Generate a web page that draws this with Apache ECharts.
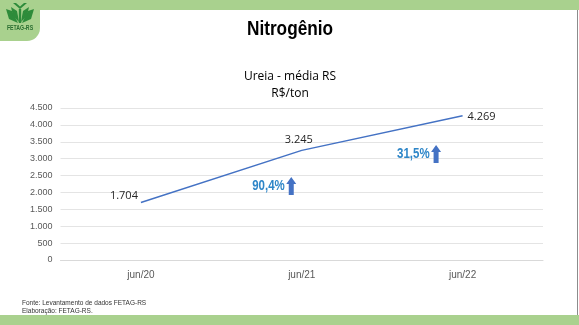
<!DOCTYPE html>
<html><head><meta charset="utf-8">
<script src="https://cdn.jsdelivr.net/npm/echarts@6/dist/echarts.min.js"></script>
<style>html,body{margin:0;padding:0;background:#fff;}#c{width:579px;height:325px;}</style>
</head><body><div id="c"></div>
<script>
const categories = ['jun/20', 'jun/21', 'jun/22'];
const values = [1704, 3245, 4269];
const yTicks = [0, 500, 1000, 1500, 2000, 2500, 3000, 3500, 4000, 4500];
const changeLabels = ['90,4%', '31,5%'];

const fmt = v => v.toLocaleString('de-DE');
const chart = echarts.init(document.getElementById('c'), null, {renderer: 'canvas'});
const green = '#a9d18e';
const option = {
  backgroundColor: '#fff',
  animation: false,
  grid: {left: 60.5, right: 36, top: 108, bottom: 65, containLabel: false},
  xAxis: {
    type: 'category', data: categories, boundaryGap: true,
    axisLine: {show: true, lineStyle: {color: '#d9d9d9'}},
    axisTick: {show: false},
    axisLabel: {color: '#595959', fontSize: 10, fontFamily: 'Liberation Sans', margin: 10}
  },
  yAxis: {
    type: 'value', min: yTicks[0], max: yTicks[yTicks.length - 1], interval: 500,
    axisLine: {show: false}, axisTick: {show: false},
    splitLine: {lineStyle: {color: '#e4e4e4', width: 1}},
    axisLabel: {color: '#595959', fontSize: 9, fontFamily: 'Liberation Sans', margin: 8, formatter: v => fmt(v)}
  },
  series: [{
    type: 'line', data: values, symbol: 'none',
    lineStyle: {color: '#4472c4', width: 1.5},
    label: {show: false}
  }]
};
chart.setOption(option);

const px = values.map((v, i) => chart.convertToPixel({seriesIndex: 0}, [i, v]));
const g = [];
const T = (text, x, y, size, opts, sx, z) => ({type: 'text', z: z || 5, x: x, y: y, scaleX: sx || 1,
  style: Object.assign({text: text, x: 0, y: 0, fontSize: size, fill: '#000', align: 'center', verticalAlign: 'middle', fontFamily: 'Liberation Sans'}, opts || {})});
// frame bands
g.push({type: 'rect', shape: {x: 0, y: 0, width: 579, height: 10}, style: {fill: green}, z: 10});
g.push({type: 'rect', shape: {x: 0, y: 315, width: 579, height: 10}, style: {fill: green}, z: 10});
g.push({type: 'rect', shape: {x: 0, y: 0, width: 40, height: 41, r: [0, 0, 13, 0]}, style: {fill: green}, z: 10});
g.push({type: 'line', shape: {x1: 577.5, y1: 10, x2: 577.5, y2: 315}, style: {stroke: '#8c8c8c', lineWidth: 1}, z: 10});
// logo leaves
const dg = '#2e8b3a';
const polys = [
  [[13, 3], [20, 9], [27, 3], [24, 3], [20, 6.5], [16, 3]],
  [[6, 9], [12, 11], [18, 23], [9, 19]],
  [[34, 9], [28, 11], [22, 23], [31, 19]],
  [[11, 7], [17, 11], [19, 22], [13, 16]],
  [[29, 7], [23, 11], [21, 22], [27, 16]],
  [[18.8, 9], [21.2, 9], [21.2, 23], [18.8, 23]]
];
polys.forEach(p => g.push({type: 'polygon', shape: {points: p}, style: {fill: dg}, z: 11}));
g.push(T('FETAG-RS', 20, 28.5, 6.5, {fontWeight: 'bold', fill: '#2a6e31'}, 0.8, 11));
// titles
g.push(T('Nitrogênio', 290, 29, 21, {fontWeight: 'bold'}, 0.82));
g.push(T('Ureia - média RS', 290, 77, 12, {fontFamily: 'Open Sans'}));
g.push(T('R$/ton', 290, 94, 12, {fontFamily: 'Open Sans'}));
// data labels
const lblOff = [[-17, -7], [-3, -11], [19, 1]];
px.forEach((p, i) => {
  g.push(T(fmt(values[i]), p[0] + lblOff[i][0], p[1] + lblOff[i][1], 11, {fill: '#262626', fontFamily: 'Open Sans'}));
});
// change annotations
const annPos = [[px[1][0] - 15, 186], [px[2][0] - 31, 154]];
changeLabels.forEach((t, i) => {
  const ax = annPos[i][0], ay = annPos[i][1];
  g.push(T(t, ax - 2, ay, 14, {fontWeight: 'bold', fill: '#2e86c8', align: 'right'}, 0.82));
  const cx = ax + 4.5, top = ay - 9, bot = ay + 9;
  g.push({type: 'polygon', shape: {points: [[cx, top], [cx + 5, top + 7], [cx + 2.5, top + 7], [cx + 2.5, bot], [cx - 2.5, bot], [cx - 2.5, top + 7], [cx - 5, top + 7]]}, style: {fill: '#4472c4'}, z: 5});
});
// footer
g.push(T('Fonte: Levantamento de dados FETAG-RS', 22, 303, 6.5, {fill: '#333', align: 'left'}));
g.push(T('Elaboração: FETAG-RS.', 22, 311, 6.5, {fill: '#333', align: 'left'}));
chart.setOption({graphic: g});
</script></body></html>
